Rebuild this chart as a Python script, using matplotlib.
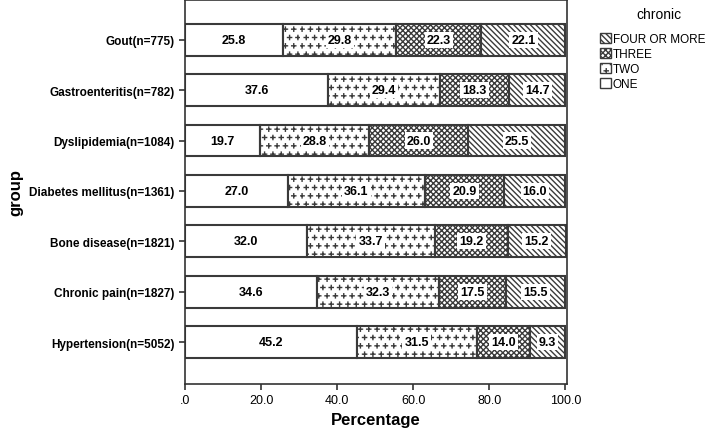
import warnings
import matplotlib
matplotlib.use("Agg")
from matplotlib import pyplot as plt
from matplotlib import hatch as mhatch
from matplotlib.patches import Patch
from matplotlib.path import Path

warnings.filterwarnings("ignore")

plt.rcParams['font.family'] = ['Liberation Sans', 'DejaVu Sans']
plt.rcParams['hatch.linewidth'] = 1.0
plt.rcParams['hatch.color'] = '#1a1a1a'


# SPSS-like "scattered plus signs" fill, used with the letter 'p'
class PlusHatch(mhatch.HatchPatternBase):
    def __init__(self, hatch, density):
        self.num_rows = hatch.count('p') * density
        self.num_vertices = self.num_rows * self.num_rows * 4

    def set_vertices_and_codes(self, vertices, codes):
        n = self.num_rows
        step = 1.0 / n
        s = step * 0.25
        k = 0
        for i in range(n):
            for j in range(n):
                x = (j + (0.25 if i % 2 == 0 else 0.75)) * step
                y = (i + 0.5) * step
                vertices[k:k + 4] = [(x - s, y), (x + s, y), (x, y - s), (x, y + s)]
                codes[k:k + 4] = [Path.MOVETO, Path.LINETO, Path.MOVETO, Path.LINETO]
                k += 4


mhatch._hatch_types.append(PlusHatch)

groups = ["Hypertension(n=5052)", "Chronic pain(n=1827)", "Bone disease(n=1821)",
          "Diabetes mellitus(n=1361)", "Dyslipidemia(n=1084)",
          "Gastroenteritis(n=782)", "Gout(n=775)"]
one = [45.2, 34.6, 32.0, 27.0, 19.7, 37.6, 25.8]
two = [31.5, 32.3, 33.7, 36.1, 28.8, 29.4, 29.8]
three = [14.0, 17.5, 19.2, 20.9, 26.0, 18.3, 22.3]
four = [9.3, 15.5, 15.2, 16.0, 25.5, 14.7, 22.1]
series_names = ["ONE", "TWO", "THREE", "FOUR OR MORE"]
hatches = ["", "pp", "xxxxxx", "\\" * 6]

fig = plt.figure(figsize=(7.09, 4.35), dpi=100)
ax = fig.add_axes([0.261, 0.115, 0.539, 0.883])

pos = list(range(len(groups)))
left = [0] * len(groups)
for vals, name, h in zip([one, two, three, four], series_names, hatches):
    ax.barh(pos, vals, left=left, height=0.63, color="white", edgecolor="#3a3a3a",
            linewidth=1.5, hatch=h)
    for p, v, l in zip(pos, vals, left):
        box = None
        if h:
            box = dict(facecolor="white", edgecolor="none", pad=1.5)
        ax.text(l + v / 2, p, "%.1f" % v, ha="center", va="center",
                fontsize=9, fontweight="bold", bbox=box)
    left = [a + b for a, b in zip(left, vals)]

ax.set_yticks(pos)
ax.set_yticklabels(groups, fontsize=8.5, fontweight="bold")
ax.set_ylim(-0.83, 6.79)
ax.set_xlim(0, 100.5)
ax.set_xticks([0, 20, 40, 60, 80, 100])
ax.set_xticklabels([".0", "20.0", "40.0", "60.0", "80.0", "100.0"], fontsize=9)
ax.tick_params(length=4, width=1.2, color="#333333")
for s in ax.spines.values():
    s.set_linewidth(1.2)
    s.set_color("#333333")

ax.set_xlabel("Percentage", fontsize=12, fontweight="bold")
ax.set_ylabel("group", fontsize=12, fontweight="bold")

# legend on the right, title placed separately like SPSS
fig.text(0.93, 0.965, "chronic", ha="center", va="center", fontsize=10)
handles = [Patch(facecolor="white", edgecolor="#3a3a3a", hatch=h, label=n)
           for n, h in zip(series_names, hatches)][::-1]
leg = fig.legend(handles=handles, loc="upper left",
                 bbox_to_anchor=(0.835, 0.94), frameon=False, fontsize=8.5,
                 handlelength=0.9, handleheight=0.9, borderpad=0.2,
                 handletextpad=0.15, labelspacing=0.25)

fig.savefig("out.png", dpi=100)
